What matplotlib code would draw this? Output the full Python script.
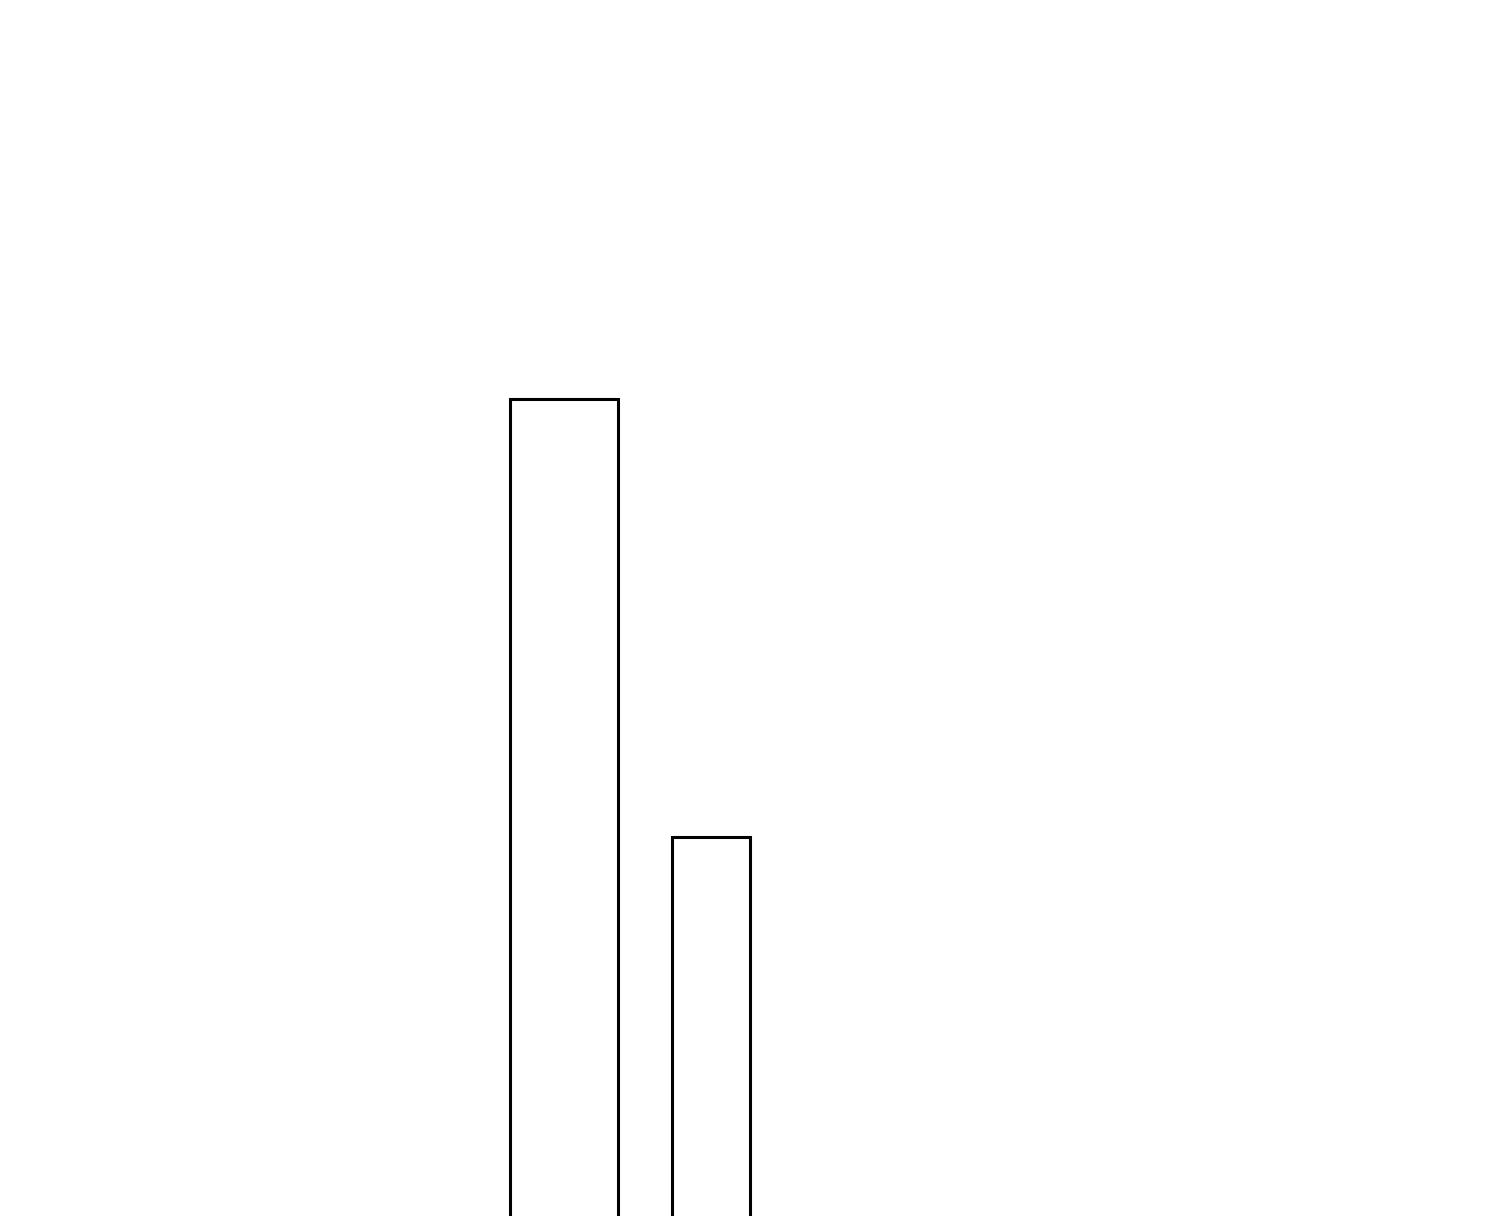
import matplotlib
matplotlib.use("Agg")
import matplotlib.pyplot as plt

# two unlabeled bars, outlines only
positions = [564, 711]
values = [822, 384]
widths = [108, 78]

fig = plt.figure(figsize=(15, 12.16), dpi=100)
ax = fig.add_axes([0, 0, 1, 1])
ax.bar(positions, values, width=widths, facecolor="white",
       edgecolor="black", linewidth=2.2)
ax.set_xlim(0, 1500)
ax.set_ylim(5, 1221)
ax.axis("off")

fig.savefig("out.png", dpi=100, facecolor="white")
